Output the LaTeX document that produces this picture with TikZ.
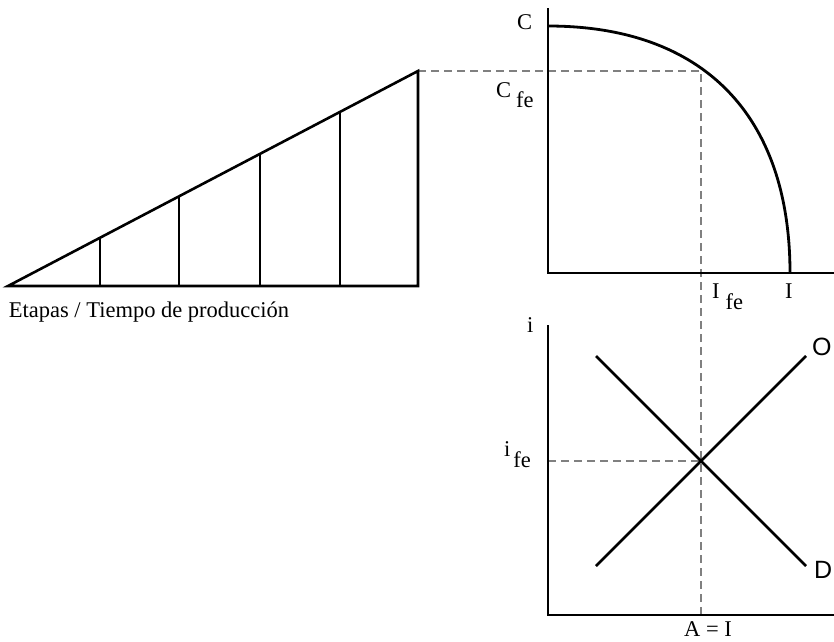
\documentclass[tikz,border=0pt]{standalone}
\usepackage{fontspec}
\setmainfont{Liberation Serif}
\newfontfamily\labsans{Liberation Sans}
\usetikzlibrary{calc}
\begin{document}
\begin{tikzpicture}[x=1pt,y=-1pt,
  heavy/.style={line width=2.6pt, line join=miter, line cap=butt},
  tick/.style={line width=2.1pt},
  curve/.style={line width=2.8pt},
  axisline/.style={line width=1.6pt},
  guide/.style={line width=1.3pt, draw=black!50, dash pattern=on 8pt off 5pt},
  lab/.style={inner sep=0pt, font=\fontsize{22.5}{22.5}\selectfont, anchor=base west},
  slab/.style={inner sep=0pt, font=\labsans\fontsize{25}{25}\selectfont, anchor=base west}]
\useasboundingbox (0,0) rectangle (834,641);

% triangle points
\coordinate (T0) at (8,286);
\coordinate (T1) at (418,286);
\coordinate (Ttop) at (418,71);

% top graph
\coordinate (O1) at (548,273);
\coordinate (Y1) at (548,8);
\coordinate (X1) at (834,273);
\coordinate (Cs) at (548,26);
\coordinate (Ce) at (790,273);
\coordinate (P) at (701,71);

% bottom graph
\coordinate (O2) at (548,615);
\coordinate (Y2) at (548,325);
\coordinate (X2) at (834,615);
\coordinate (Da) at (596,356);
\coordinate (Db) at (806,566);
\coordinate (Sa) at (596,566);
\coordinate (Sb) at (806,356);
\coordinate (E) at (701,461);
\coordinate (Ey) at (548,461);
\coordinate (Ex) at (701,615);

% dashed guides
\draw[guide] (Ttop) -- (P) -- (Ex);
\draw[guide] (Ey) -- (E);

% triangle
\draw[heavy] (T0) -- (Ttop) -- (T1) -- cycle;
\foreach \f in {0.2244,0.4171,0.6146,0.8098}
  \draw[tick] ($(T0)!\f!(Ttop)$) -- ($(T0)!\f!(T1)$);

% axes
\draw[axisline] (Y1) -- (O1) -- (X1);
\draw[axisline] (Y2) -- (O2) -- (X2);

% PPF curve
\draw[curve] (Cs) .. controls (703,26) and (790,115) .. (Ce);

% supply and demand
\draw[heavy] (Da) -- (Db);
\draw[heavy] (Sa) -- (Sb);

% labels
\node[lab] (lC) at (517,29) {C};
\node[lab] (lCfe) at (496,97) {C\hspace{5pt}\raisebox{-10pt}{fe}};
\node[lab] (lIfe) at (712,298) {I\hspace{6pt}\raisebox{-11pt}{fe}};
\node[lab] (lI) at (785,298) {I};
\node[lab] (li) at (527,332) {i};
\node[lab] (life) at (504,456) {i\hspace{3pt}\raisebox{-11pt}{fe}};
\node[lab, anchor=base] (lAI) at (708,636) {A = I};
\node[lab, anchor=base] (lEt) at (149,317) {Etapas / Tiempo de producción};
\node[slab] (lO) at (812,355) {O};
\node[slab] (lD) at (814,578) {D};
\end{tikzpicture}
\end{document}
